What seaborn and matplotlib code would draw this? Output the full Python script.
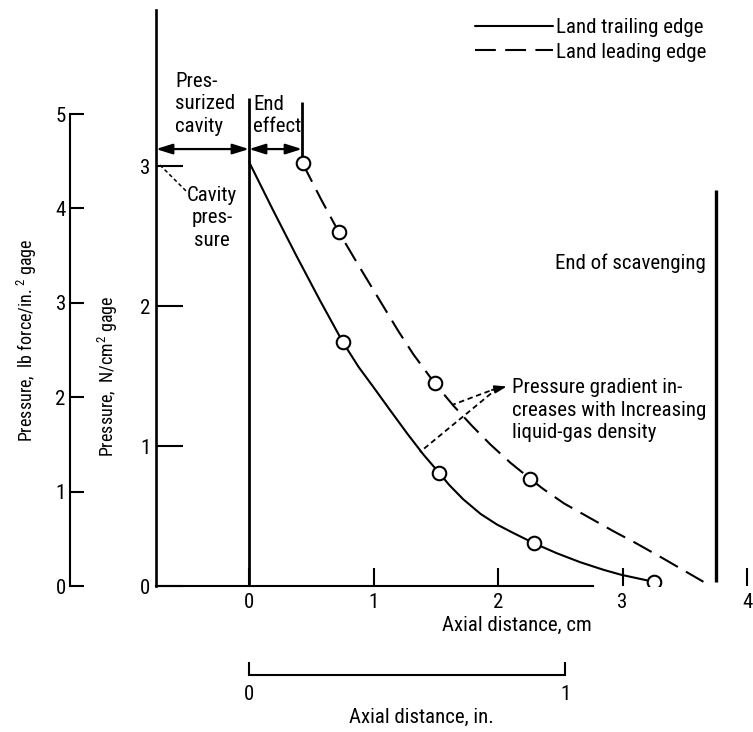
import matplotlib
matplotlib.use("Agg")
import matplotlib.pyplot as plt
import seaborn as sns

# ---------------- data ----------------
# axial distance in cm, pressure in N/cm^2 gage
trail_x = [0.0, 0.19, 0.38, 0.57, 0.755, 0.88, 1.0, 1.13, 1.27, 1.40, 1.53,
           1.61, 1.72, 1.86, 1.99, 2.12, 2.29, 2.47, 2.66, 2.85, 2.99, 3.25]
trail_y = [3.03, 2.69, 2.36, 2.04, 1.74, 1.565, 1.42, 1.26, 1.09, 0.94, 0.805,
           0.72, 0.62, 0.515, 0.44, 0.38, 0.305, 0.235, 0.17, 0.115, 0.08, 0.03]
trail_pts_x = [0.755, 1.53, 2.29, 3.25]
trail_pts_y = [1.74, 0.805, 0.31, 0.03]

lead_x = [0.43, 0.58, 0.72, 0.88, 1.05, 1.20, 1.32, 1.49, 1.64, 1.79, 1.94,
          2.10, 2.26, 2.36, 2.53, 2.71, 2.93, 3.11, 3.33, 3.65]
lead_y = [3.02, 2.76, 2.53, 2.29, 2.04, 1.82, 1.655, 1.45, 1.29, 1.145, 1.01,
          0.88, 0.765, 0.695, 0.59, 0.50, 0.39, 0.305, 0.195, 0.03]
lead_pts_x = [0.43, 0.72, 1.49, 2.26]
lead_pts_y = [3.02, 2.53, 1.45, 0.765]

series_labels = ["Land trailing edge", "Land leading edge"]
cm_ticks = [0, 1, 2, 3, 4]
ncm_ticks = [0, 1, 2, 3]
psi_ticks = [0, 1, 2, 3, 4, 5]
inch_ticks = [0, 1]

# ---------------- style ----------------
sns.set_theme(style="ticks", rc={
    "axes.edgecolor": "black", "text.color": "black", "axes.labelcolor": "black",
    "xtick.color": "black", "ytick.color": "black",
})
FONT = ["Liberation Sans Narrow", "DejaVu Sans Condensed", "Roboto Condensed",
        "Liberation Sans", "DejaVu Sans"]
plt.rcParams["font.family"] = FONT
plt.rcParams["font.stretch"] = "condensed"
plt.rcParams["mathtext.fontset"] = "custom"
plt.rcParams["mathtext.rm"] = "Roboto Condensed"
plt.rcParams["mathtext.it"] = "Roboto Condensed"
plt.rcParams["mathtext.bf"] = "Roboto Condensed"
FS = 15
FS_Y = 13

W, H = 753, 732
fig = plt.figure(figsize=(W / 100, H / 100), dpi=100)
fig.patch.set_facecolor("white")


def fx(px):
    return px / W


def fy(py):
    return 1 - py / H


# main axes geometry (pixels)
L, R, T, B = 156, 752, 10, 586
X0, CMPX, NPX, PSIPX = 249, 124.5, 140.0, 94.4
ax = fig.add_axes([fx(L), fy(B), fx(R) - fx(L), fy(T) - fy(B)])
ax.set_xlim((L - X0) / CMPX, (R - X0) / CMPX)
ax.set_ylim(0, (B - T) / NPX)
ax.patch.set_alpha(0)

# curves
DASH = (0, (10, 4.5))
sns.lineplot(x=trail_x, y=trail_y, ax=ax, color="black", lw=1.5,
             label=series_labels[0], sort=False)
sns.lineplot(x=lead_x, y=lead_y, ax=ax, color="black", lw=1.5,
             linestyle=DASH, label=series_labels[1], sort=False)
sns.scatterplot(x=trail_pts_x + lead_pts_x, y=trail_pts_y + lead_pts_y, ax=ax,
                marker="o", s=95, facecolor="white", edgecolor="black",
                linewidth=1.5, zorder=5, legend=False)

# spines / ticks
ax.spines[["top", "right"]].set_visible(False)
ax.spines["left"].set_linewidth(1.9)
ax.spines["bottom"].set_linewidth(1.5)
ax.spines["bottom"].set_bounds(ax.get_xlim()[0], 2.76)
ax.set_xticks(cm_ticks)
ax.set_yticks(ncm_ticks)
ax.tick_params(axis="x", direction="in", length=13, width=1.5, pad=5, labelsize=FS)
ax.tick_params(axis="y", direction="in", length=19.5, width=1.5, pad=4, labelsize=FS)
ax.set_xlabel("Axial distance, cm", fontsize=FS, va="center")
ax.xaxis.set_label_coords(fx(517), fy(625), transform=fig.transFigure)
ax.set_ylabel("Pressure,  N/cm$^2$ gage", fontsize=FS_Y, va="center")
ax.yaxis.set_label_coords(fx(108), fy(376), transform=fig.transFigure)

# secondary pressure axis, lb force/in^2
ax2 = fig.add_axes([fx(70), fy(B), 0.01, fy(T) - fy(B)])
ax2.set_ylim(0, (B - T) / PSIPX)
ax2.patch.set_alpha(0)
for s in ["top", "right", "bottom"]:
    ax2.spines[s].set_visible(False)
ax2.spines["left"].set_linewidth(1.5)
ax2.spines["left"].set_bounds(0, 5)
ax2.xaxis.set_visible(False)
ax2.set_yticks(psi_ticks)
ax2.tick_params(axis="y", direction="in", length=10, width=1.5, pad=3, labelsize=FS)
ax2.set_ylabel("Pressure,  lb force/in.$^{\\ 2}$ gage", fontsize=FS_Y, va="center")
ax2.yaxis.set_label_coords(fx(27), fy(340), transform=fig.transFigure)

# inch axis
ax3 = fig.add_axes([fx(L), fy(675), fx(R) - fx(L), 0.01])
ax3.set_xlim(ax.get_xlim()[0] / 2.54, ax.get_xlim()[1] / 2.54)
ax3.patch.set_alpha(0)
for s in ["top", "right", "left"]:
    ax3.spines[s].set_visible(False)
ax3.spines["bottom"].set_linewidth(1.5)
ax3.spines["bottom"].set_bounds(0, 1)
ax3.yaxis.set_visible(False)
ax3.set_xticks(inch_ticks)
ax3.tick_params(axis="x", direction="in", length=9.5, width=1.5, pad=7, labelsize=FS)
ax3.set_xlabel("Axial distance, in.", fontsize=FS, va="center")
ax3.xaxis.set_label_coords(fx(421), fy(717), transform=fig.transFigure)

# ---------------- annotations ----------------
LW = 2.0
ax.vlines(0, 0, 3.486, color="black", lw=LW)
ax.vlines(0.426, 3.064, 3.457, color="black", lw=LW)
ax.vlines(3.751, 0.03, 2.83, color="black", lw=2.4)

arrow = dict(arrowstyle="<|-|>,head_length=0.7,head_width=0.22", color="black",
             lw=1.6, mutation_scale=14, shrinkA=0, shrinkB=0)
ax.annotate("", xy=(ax.get_xlim()[0], 3.121), xytext=(0, 3.121), arrowprops=arrow)
ax.annotate("", xy=(0, 3.121), xytext=(0.426, 3.121), arrowprops=arrow)

LS = 1.25
ax.text(-0.594, 3.443, "Pres-\nsurized\ncavity", ha="left", va="center",
        fontsize=FS, linespacing=LS)
ax.text(0.032, 3.36, "End\neffect", ha="left", va="center",
        fontsize=FS, linespacing=LS)
ax.text(-0.297, 2.629, "Cavity\npres-\nsure", ha="center", va="center",
        multialignment="center", fontsize=FS, linespacing=LS)
ax.plot([-0.715, -0.514, -0.49], [3.007, 2.829, 2.807], color="black",
        lw=1.1, linestyle=(0, (2.5, 1.8)))

ax.text(2.112, 1.257,
        "Pressure gradient in-\ncreases with Increasing\nliquid-gas density",
        ha="left", va="center", fontsize=FS, linespacing=LS)
LEAD = dict(color="black", lw=1.3, linestyle=(0, (3, 2)))
ax.plot([2.0, 1.631], [1.416, 1.293], **LEAD)
ax.plot([2.0, 1.373], [1.416, 0.957], **LEAD)
ax.annotate("", xy=(2.07, 1.425), xytext=(1.95, 1.40),
            arrowprops=dict(arrowstyle="-|>,head_length=0.6,head_width=0.2",
                            color="black", lw=1.2, mutation_scale=12,
                            shrinkA=0, shrinkB=0))

ax.text(3.671, 2.307, "End of scavenging", ha="right", va="center", fontsize=FS)

leg = ax.legend(loc="upper left", bbox_to_anchor=(fx(475), fy(18)),
                bbox_transform=fig.transFigure, frameon=False, fontsize=FS,
                handlelength=3.75, handletextpad=0.12, labelspacing=0.27,
                borderpad=0, borderaxespad=0)

fig.savefig("out.png", dpi=100, facecolor="white")
